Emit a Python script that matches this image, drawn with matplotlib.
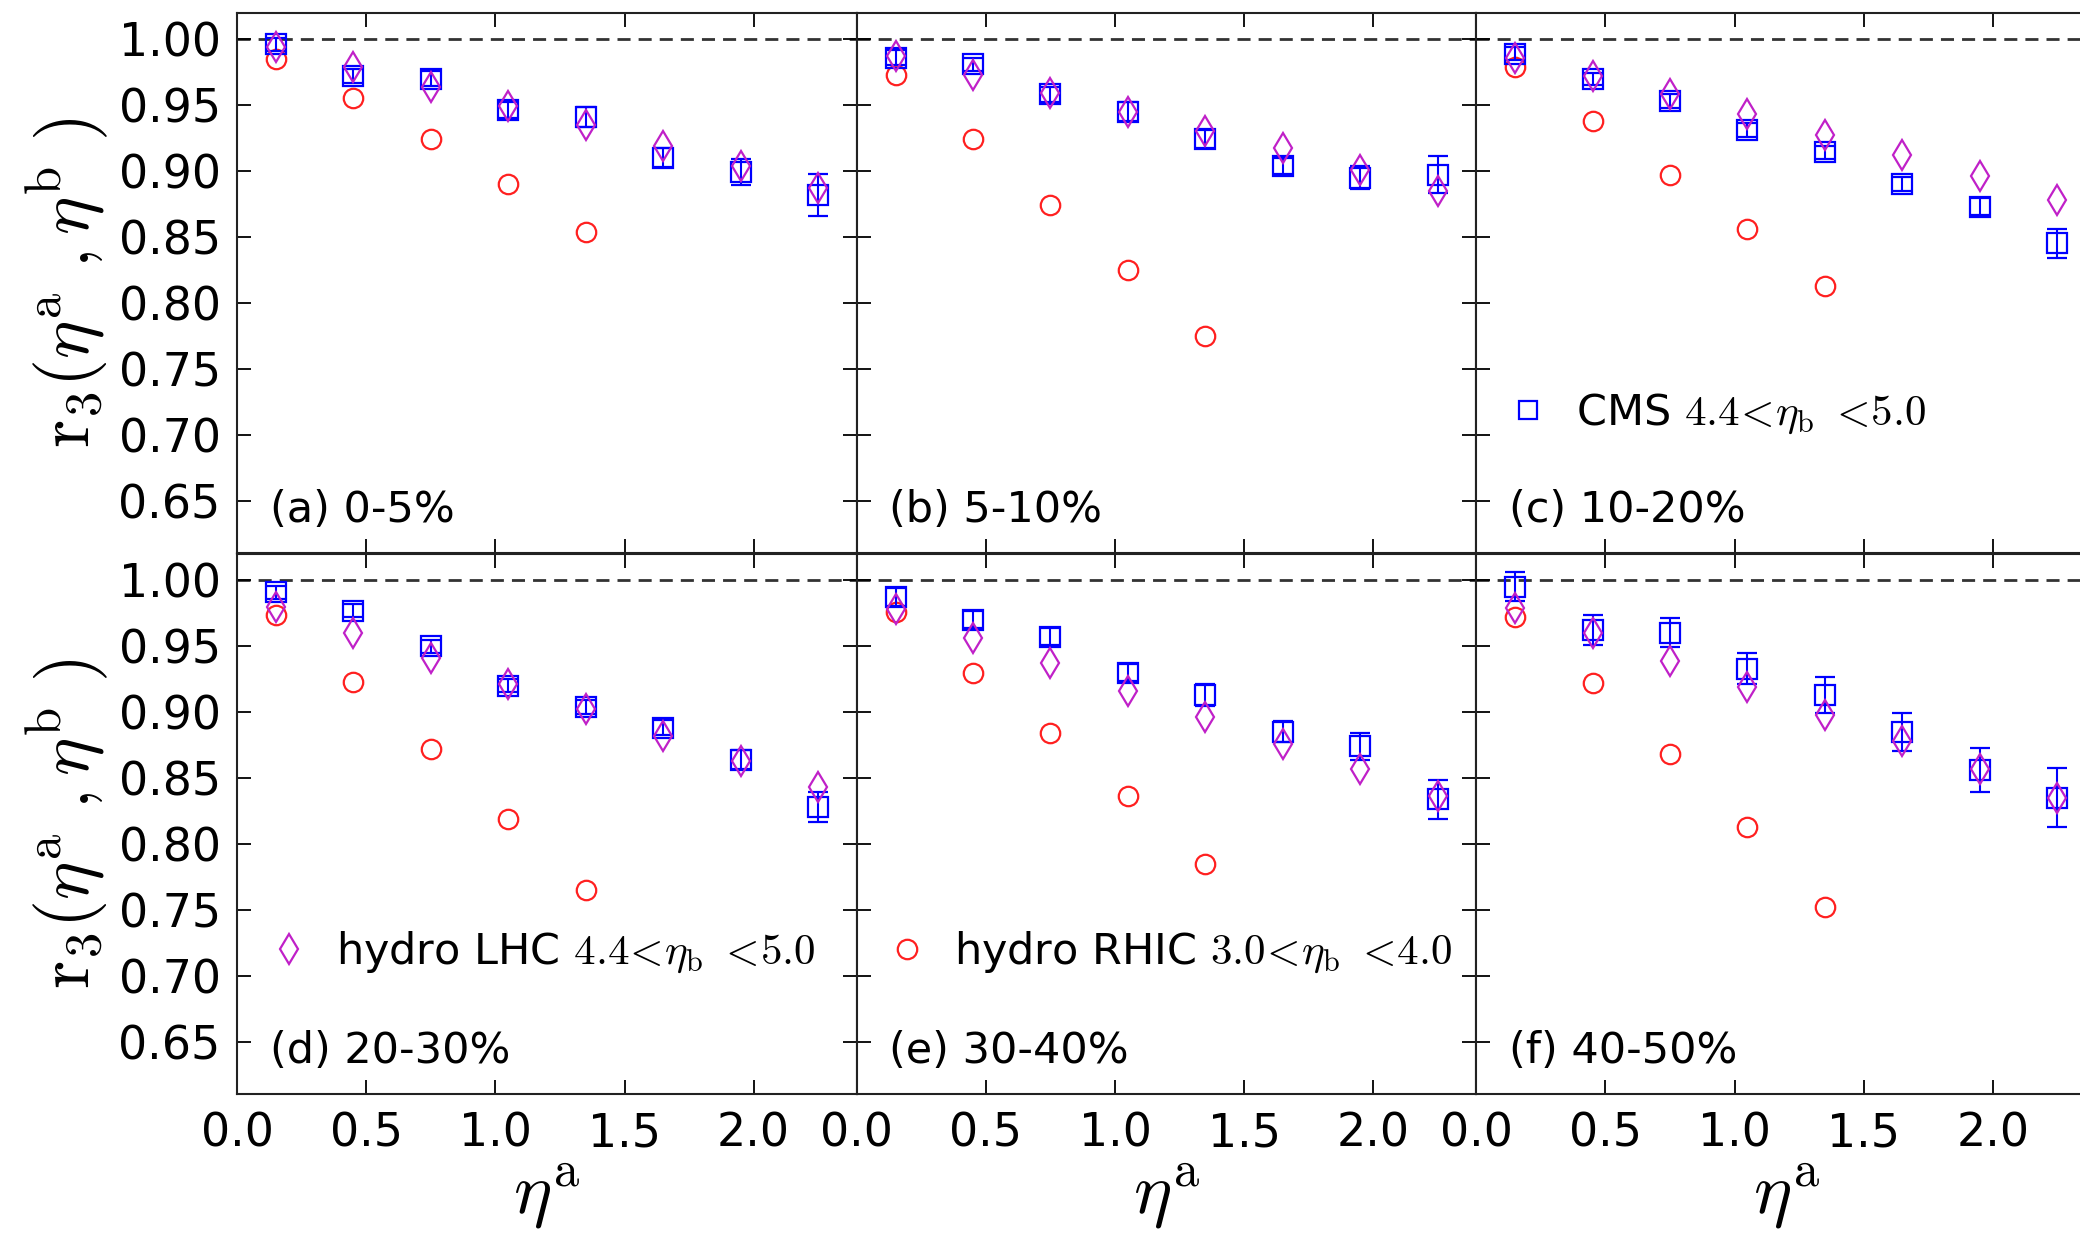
import numpy as np
import matplotlib
matplotlib.use('Agg')
import matplotlib.pyplot as plt
from matplotlib.lines import Line2D

plt.rcParams['mathtext.fontset'] = 'cm'
plt.rcParams['font.family'] = 'DejaVu Sans'

eta_a = [0.15, 0.45, 0.75, 1.05, 1.35, 1.65, 1.95, 2.25]
eta_rhic = [0.15, 0.45, 0.75, 1.05, 1.35]

# CMS 4.4 < eta_b < 5.0 (value, error)
cms_a = [0.996, 0.972, 0.970, 0.946, 0.941, 0.910, 0.899, 0.882]
cms_a_err = [0.005, 0.0055, 0.0055, 0.006, 0.0075, 0.007, 0.0098, 0.016]
cms_b = [0.986, 0.981, 0.958, 0.945, 0.924, 0.904, 0.895, 0.897]
cms_b_err = [0.006, 0.005, 0.006, 0.007, 0.007, 0.006, 0.0087, 0.014]
cms_c = [0.989, 0.970, 0.953, 0.931, 0.914, 0.890, 0.873, 0.845]
cms_c_err = [0.005, 0.0045, 0.005, 0.0055, 0.005, 0.0055, 0.0064, 0.011]
cms_d = [0.991, 0.977, 0.950, 0.920, 0.904, 0.888, 0.864, 0.828]
cms_d_err = [0.005, 0.005, 0.005, 0.0048, 0.0053, 0.0057, 0.0075, 0.011]
cms_e = [0.987, 0.970, 0.957, 0.930, 0.913, 0.885, 0.874, 0.834]
cms_e_err = [0.0068, 0.0064, 0.0065, 0.0068, 0.0084, 0.008, 0.010, 0.0148]
cms_f = [0.995, 0.962, 0.960, 0.933, 0.913, 0.885, 0.856, 0.835]
cms_f_err = [0.011, 0.0115, 0.011, 0.0115, 0.0134, 0.0142, 0.017, 0.0224]

# hydro LHC 4.4 < eta_b < 5.0
lhc_a = [0.994, 0.979, 0.964, 0.949, 0.935, 0.919, 0.904, 0.887]
lhc_b = [0.987, 0.973, 0.959, 0.945, 0.930, 0.917, 0.901, 0.885]
lhc_c = [0.986, 0.972, 0.958, 0.943, 0.927, 0.912, 0.896, 0.878]
lhc_d = [0.980, 0.960, 0.941, 0.921, 0.902, 0.882, 0.863, 0.843]
lhc_e = [0.978, 0.956, 0.937, 0.916, 0.896, 0.876, 0.857, 0.836]
lhc_f = [0.979, 0.960, 0.939, 0.919, 0.898, 0.878, 0.857, 0.835]

# hydro RHIC 3.0 < eta_b < 4.0
rhic_a = [0.985, 0.955, 0.924, 0.890, 0.854]
rhic_b = [0.973, 0.924, 0.874, 0.825, 0.775]
rhic_c = [0.979, 0.938, 0.897, 0.856, 0.813]
rhic_d = [0.974, 0.923, 0.872, 0.819, 0.765]
rhic_e = [0.976, 0.930, 0.884, 0.836, 0.785]
rhic_f = [0.972, 0.922, 0.868, 0.813, 0.752]

labels = ['(a) 0-5%', '(b) 5-10%', '(c) 10-20%',
          '(d) 20-30%', '(e) 30-40%', '(f) 40-50%']
cms_all = [cms_a, cms_b, cms_c, cms_d, cms_e, cms_f]
cms_err_all = [cms_a_err, cms_b_err, cms_c_err, cms_d_err, cms_e_err, cms_f_err]
lhc_all = [lhc_a, lhc_b, lhc_c, lhc_d, lhc_e, lhc_f]
rhic_all = [rhic_a, rhic_b, rhic_c, rhic_d, rhic_e, rhic_f]

yticks = [0.65, 0.70, 0.75, 0.80, 0.85, 0.90, 0.95, 1.00]
xticks = [0.0, 0.5, 1.0, 1.5, 2.0]

blue = '#0000ff'
red = '#ff2020'
mag = '#c020c8'

fig = plt.figure(figsize=(20.8, 12.33), dpi=100)
left0, w, h = 0.1141, 0.29785, 0.4384
bottoms = [0.5513, 0.1124]

axes = []
for i in range(6):
    row, col = i // 3, i % 3
    ax = fig.add_axes([left0 + col * w, bottoms[row], w, h])
    axes.append(ax)

    ax.axhline(1.0, color='#333333', ls='--', lw=2, dashes=(4.7, 2.9), zorder=1)
    ax.errorbar(eta_a, cms_all[i], yerr=cms_err_all[i], fmt='s', ms=14.5,
                mfc='none', mec=blue, mew=1.6, ecolor=blue, elinewidth=1.5,
                capsize=7, capthick=3.6, zorder=3)
    ax.plot(eta_a, lhc_all[i], 'd', ms=15, mfc='none', mec=mag, mew=1.6,
            zorder=4)
    ax.plot(eta_rhic, rhic_all[i], 'o', ms=14, mfc='none', mec=red, mew=1.6,
            zorder=2)

    ax.set_xlim(0, 2.4)
    ax.set_ylim(0.61, 1.02)
    ax.set_xticks(xticks)
    ax.set_yticks(yticks)
    ax.tick_params(direction='in', length=10, width=1.3, top=True, right=True,
                   labelsize=33, pad=12)
    for sp in ax.spines.values():
        sp.set_linewidth(1.5)
        sp.set_color('#222222')

    if row == 0:
        ax.set_xticklabels([])
    else:
        ax.set_xticklabels(['%.1f' % t for t in xticks])
        ax.set_xlabel(r'$\eta^{\mathrm{a}}$', fontsize=52, labelpad=4)
    if col == 0:
        ax.set_yticklabels(['%.2f' % t for t in yticks])
        ax.set_ylabel(r'$\mathrm{r}_3(\eta^{\mathrm{a}}\ ,\eta^{\mathrm{b}}\ )$',
                      fontsize=52, labelpad=6)
    else:
        ax.set_yticklabels([])

    ax.text(0.052, 0.08, labels[i], transform=ax.transAxes, fontsize=31,
            va='center', ha='left')

leg_kw = dict(loc='center left', frameon=False, fontsize=31, handlelength=0.8,
              handletextpad=0.7, borderpad=0, borderaxespad=0, numpoints=1)

h_cms = Line2D([], [], ls='none', marker='s', ms=13, mfc='none', mec=blue, mew=1.6)
axes[2].legend([h_cms], [r'CMS $4.4\!<\!\eta_{\rm b}\ <\!5.0$'],
               bbox_to_anchor=(0.056, 0.258), **leg_kw)

h_lhc = Line2D([], [], ls='none', marker='d', ms=15, mfc='none', mec=mag, mew=1.6)
axes[3].legend([h_lhc], [r'hydro LHC $4.4\!<\!\eta_{\rm b}\ <\!5.0$'],
               bbox_to_anchor=(0.055, 0.262), **leg_kw)

h_rhic = Line2D([], [], ls='none', marker='o', ms=14, mfc='none', mec=red, mew=1.6)
axes[4].legend([h_rhic], [r'hydro RHIC $3.0\!<\!\eta_{\rm b}\ <\!4.0$'],
               bbox_to_anchor=(0.053, 0.262), **leg_kw)

fig.savefig('out.png', dpi=100)
